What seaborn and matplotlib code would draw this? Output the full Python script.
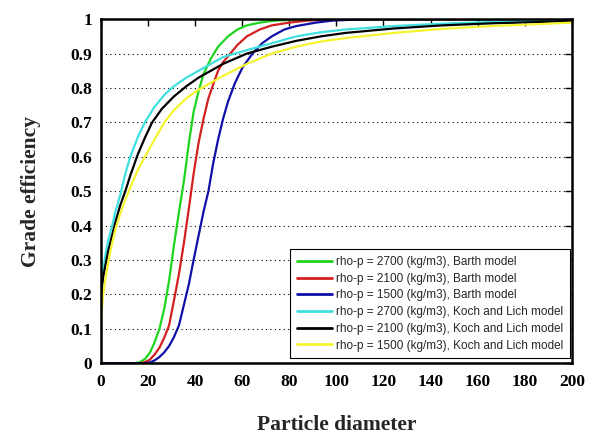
import numpy as np
import pandas as pd
import matplotlib
matplotlib.use("Agg")
import matplotlib.pyplot as plt
import seaborn as sns

# ---- data ----
labels = [
    "rho-p = 2700 (kg/m3), Barth model",
    "rho-p = 2100 (kg/m3), Barth model",
    "rho-p = 1500 (kg/m3), Barth model",
    "rho-p = 2700 (kg/m3), Koch and Lich model",
    "rho-p = 2100 (kg/m3), Koch and Lich model",
    "rho-p = 1500 (kg/m3), Koch and Lich model",
]
colors = ["#1ed41e", "#d42020", "#1010a8", "#40e0e0", "#000000", "#f4f430"]

barth2700_x = [0, 14.5, 16.6, 18.7, 20.8, 22.8, 24.9, 27, 29, 31, 33.2, 35.3, 37.4, 39.4, 41.5, 43.6, 46.7, 49.8, 54, 58, 62, 67.5, 72.6, 83, 104, 200]
barth2700_y = [0, 0, 0.003, 0.012, 0.03, 0.06, 0.1, 0.16, 0.24, 0.34, 0.44, 0.53, 0.64, 0.73, 0.79, 0.84, 0.885, 0.92, 0.95, 0.97, 0.982, 0.99, 0.995, 0.999, 1, 1]

barth2100_x = [0, 16.6, 18.7, 20.8, 22.8, 24.9, 27, 29, 31, 33.2, 35.3, 37.4, 39.4, 41.5, 43.6, 45.7, 47.7, 49.8, 51.9, 55, 58, 62, 67.5, 72.6, 80, 88, 98.6, 114, 200]
barth2100_y = [0, 0, 0.003, 0.01, 0.025, 0.045, 0.075, 0.11, 0.18, 0.26, 0.35, 0.45, 0.55, 0.64, 0.71, 0.77, 0.81, 0.85, 0.875, 0.9, 0.925, 0.95, 0.97, 0.982, 0.99, 0.996, 0.999, 1, 1]

barth1500_x = [0, 18.7, 20.8, 22.8, 24.9, 27, 29, 31, 33.2, 35.3, 37.4, 39.4, 41.5, 43.6, 45.7, 47.7, 49.8, 51.9, 54, 57, 60.2, 64.4, 68.5, 72.6, 77.9, 83, 91.3, 98.6, 109, 124.5, 200]
barth1500_y = [0, 0, 0.002, 0.008, 0.018, 0.032, 0.05, 0.075, 0.11, 0.17, 0.23, 0.3, 0.37, 0.44, 0.5, 0.58, 0.65, 0.71, 0.76, 0.815, 0.86, 0.9, 0.93, 0.95, 0.97, 0.98, 0.99, 0.996, 0.999, 1, 1]

koch2700_x = [0, 1, 2.1, 3.1, 4.2, 5.2, 6.2, 8.3, 10.4, 12.5, 15.6, 18.7, 22.8, 27, 31, 36.3, 41.5, 46.7, 51.9, 57, 62, 72.6, 83, 93.4, 103.8, 124.5, 145, 166, 187, 200]
koch2700_y = [0.2, 0.27, 0.32, 0.355, 0.385, 0.41, 0.44, 0.49, 0.55, 0.6, 0.655, 0.7, 0.745, 0.78, 0.805, 0.83, 0.85, 0.87, 0.89, 0.9, 0.91, 0.93, 0.95, 0.962, 0.97, 0.98, 0.987, 0.992, 0.995, 0.997]

koch2100_x = [0, 1, 2.1, 3.1, 4.2, 6.2, 8.3, 10.4, 12.5, 15.6, 18.7, 21.8, 26, 31, 36.3, 41.5, 46.7, 51.9, 62, 72.6, 83, 93.4, 103.8, 124.5, 145, 166, 187, 200]
koch2100_y = [0.19, 0.25, 0.29, 0.325, 0.355, 0.41, 0.46, 0.5, 0.545, 0.605, 0.655, 0.7, 0.74, 0.775, 0.805, 0.83, 0.85, 0.87, 0.9, 0.92, 0.937, 0.95, 0.96, 0.973, 0.982, 0.988, 0.992, 0.995]

koch1500_x = [0, 1, 2.1, 3.1, 4.2, 6.2, 8.3, 10.4, 12.5, 15.6, 18.7, 22.8, 27, 31, 36.3, 41.5, 46.7, 51.9, 62, 72.6, 83, 93.4, 103.8, 124.5, 145, 166, 187, 200]
koch1500_y = [0.12, 0.2, 0.25, 0.29, 0.33, 0.39, 0.435, 0.475, 0.51, 0.56, 0.6, 0.65, 0.7, 0.735, 0.77, 0.795, 0.815, 0.835, 0.87, 0.9, 0.92, 0.935, 0.945, 0.96, 0.972, 0.98, 0.986, 0.99]

xticks = [0, 20, 40, 60, 80, 100, 120, 140, 160, 180, 200]
yticks = [0, 0.1, 0.2, 0.3, 0.4, 0.5, 0.6, 0.7, 0.8, 0.9, 1]
ytick_labels = ["0", "0.1", "0.2", "0.3", "0.4", "0.5", "0.6", "0.7", "0.8", "0.9", "1"]

series = [
    (barth2700_x, barth2700_y),
    (barth2100_x, barth2100_y),
    (barth1500_x, barth1500_y),
    (koch2700_x, koch2700_y),
    (koch2100_x, koch2100_y),
    (koch1500_x, koch1500_y),
]

frames = []
for lab, (xs, ys) in zip(labels, series):
    frames.append(pd.DataFrame({"d": xs, "eff": ys, "series": lab}))
df = pd.concat(frames, ignore_index=True)

sns.set_style("white")
fig = plt.figure(figsize=(6.0, 4.36), dpi=100)
ax = fig.add_axes([0.168, 0.167, 0.785, 0.789])

sns.lineplot(data=df, x="d", y="eff", hue="series", hue_order=labels,
             palette=dict(zip(labels, colors)), sort=False, estimator=None,
             units="series", linewidth=1.6, ax=ax)

ax.set_xlim(0, 200)
ax.set_ylim(0, 1)
ax.set_xticks(xticks)
ax.set_yticks(yticks)
ax.set_yticklabels(ytick_labels)

serif = "Liberation Serif"
for lbl in ax.get_xticklabels() + ax.get_yticklabels():
    lbl.set_fontfamily(serif)
    lbl.set_fontweight("bold")
    lbl.set_fontsize(12.5)

ax.set_xlabel("Particle diameter", fontfamily=serif, fontweight="bold", fontsize=15.5, labelpad=18)
ax.set_ylabel("Grade efficiency", fontfamily=serif, fontweight="bold", fontsize=15.5, labelpad=21)

ax.tick_params(direction="in", length=5, width=1, top=True, right=True, colors="black")
ax.tick_params(axis="x", pad=8)
ax.tick_params(axis="y", pad=6)
ax.yaxis.grid(True, linestyle=(0, (1, 3)), color="black", linewidth=0.8)
ax.xaxis.grid(False)
for s in ax.spines.values():
    s.set_linewidth(1.8)
    s.set_color("black")

leg = ax.legend(loc="lower right", bbox_to_anchor=(0.996, 0.015),
                prop={"family": "Liberation Sans", "size": 8.5},
                handlelength=3.0, labelspacing=0.4, borderaxespad=0.0,
                fancybox=False, frameon=True, edgecolor="black", framealpha=1,
                borderpad=0.55, handletextpad=0.35)
leg.get_frame().set_linewidth(0.8)
for line in leg.get_lines():
    line.set_linewidth(2)

fig.savefig("out.png", dpi=100)
